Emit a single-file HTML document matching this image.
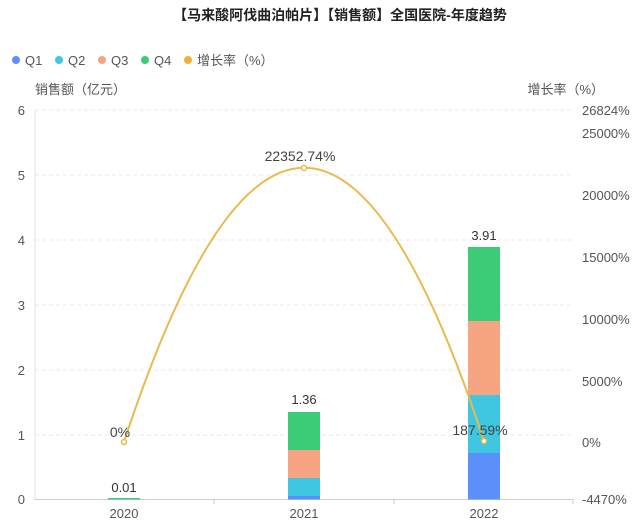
<!DOCTYPE html>
<html><head><meta charset="utf-8"><style>
body{margin:0;background:#fff;width:640px;height:526px;overflow:hidden}
svg text{font-family:"Liberation Sans","Noto Sans CJK SC",sans-serif}
</style></head><body>
<svg width="640" height="526" xmlns="http://www.w3.org/2000/svg">
<text x="340" y="20" text-anchor="middle" font-size="14" font-weight="bold" fill="#222">【马来酸阿伐曲泊帕片】【销售额】全国医院-年度趋势</text>
<g font-size="13" fill="#555">
<circle cx="16" cy="60" r="4" fill="#5b8ff9"/><text x="25" y="65">Q1</text>
<circle cx="59" cy="60" r="4" fill="#3fc6e0"/><text x="68" y="65">Q2</text>
<circle cx="102" cy="60" r="4" fill="#f7a482"/><text x="111" y="65">Q3</text>
<circle cx="145" cy="60" r="4" fill="#3ecb78"/><text x="154" y="65">Q4</text>
<circle cx="188" cy="60" r="4" fill="#f0b13c"/><text x="197" y="65">增长率（%）</text>
</g>
<text x="35" y="94" font-size="13" fill="#555">销售额（亿元）</text>
<text x="604" y="94" font-size="13" fill="#555" text-anchor="end">增长率（%）</text>
<g stroke="#e8e8e8" stroke-dasharray="4,3">
<line x1="35" y1="110" x2="573" y2="110"/><line x1="35" y1="175" x2="573" y2="175"/>
<line x1="35" y1="240" x2="573" y2="240"/><line x1="35" y1="305" x2="573" y2="305"/>
<line x1="35" y1="370" x2="573" y2="370"/><line x1="35" y1="435" x2="573" y2="435"/>
</g>
<line x1="35" y1="110" x2="35" y2="500" stroke="#e0e0e0"/>
<line x1="35" y1="499.5" x2="573" y2="499.5" stroke="#ccc"/>
<g stroke="#ccc"><line x1="214" y1="499" x2="214" y2="504"/><line x1="394" y1="499" x2="394" y2="504"/><line x1="573" y1="499" x2="573" y2="504"/></g>
<g font-size="13" fill="#555" text-anchor="end">
<text x="25" y="115">6</text><text x="25" y="180">5</text><text x="25" y="245">4</text>
<text x="25" y="310">3</text><text x="25" y="375">2</text><text x="25" y="440">1</text><text x="25" y="504">0</text>
</g>
<g font-size="13" fill="#555">
<text x="582" y="115">26824%</text><text x="582" y="138">25000%</text><text x="582" y="200">20000%</text>
<text x="582" y="262">15000%</text><text x="582" y="324">10000%</text><text x="582" y="386">5000%</text>
<text x="582" y="447">0%</text><text x="582" y="504">-4470%</text>
</g>
<g font-size="13" fill="#555" text-anchor="middle">
<text x="124" y="518">2020</text><text x="304" y="518">2021</text><text x="484" y="518">2022</text>
</g>
<rect x="108" y="498" width="32" height="1.5" fill="#3ecb78"/>
<rect x="288" y="496" width="32" height="3.5" fill="#5b8ff9"/>
<rect x="288" y="478" width="32" height="18" fill="#3fc6e0"/>
<rect x="288" y="450" width="32" height="28" fill="#f7a482"/>
<rect x="288" y="412" width="32" height="38" fill="#3ecb78"/>
<rect x="468" y="453" width="32" height="46.5" fill="#5b8ff9"/>
<rect x="468" y="395" width="32" height="58" fill="#3fc6e0"/>
<rect x="468" y="321" width="32" height="74" fill="#f7a482"/>
<rect x="468" y="247" width="32" height="74" fill="#3ecb78"/>
<g font-size="13" fill="#333" text-anchor="middle">
<text x="124" y="492">0.01</text><text x="304" y="404">1.36</text><text x="484" y="240">3.91</text>
</g>
<path d="M124 442 Q304 -106 484 441" fill="none" stroke="#eab94a" stroke-width="2"/>
<g fill="#fff" stroke="#eab94a" stroke-width="1.5">
<circle cx="124" cy="442" r="2.5"/><circle cx="304" cy="168" r="2.5"/><circle cx="484" cy="441" r="2.5"/>
</g>
<g font-size="14" fill="#444" text-anchor="middle">
<text x="120" y="437">0%</text><text x="300" y="161">22352.74%</text><text x="480" y="435">187.59%</text>
</g>
</svg>
</body></html>
